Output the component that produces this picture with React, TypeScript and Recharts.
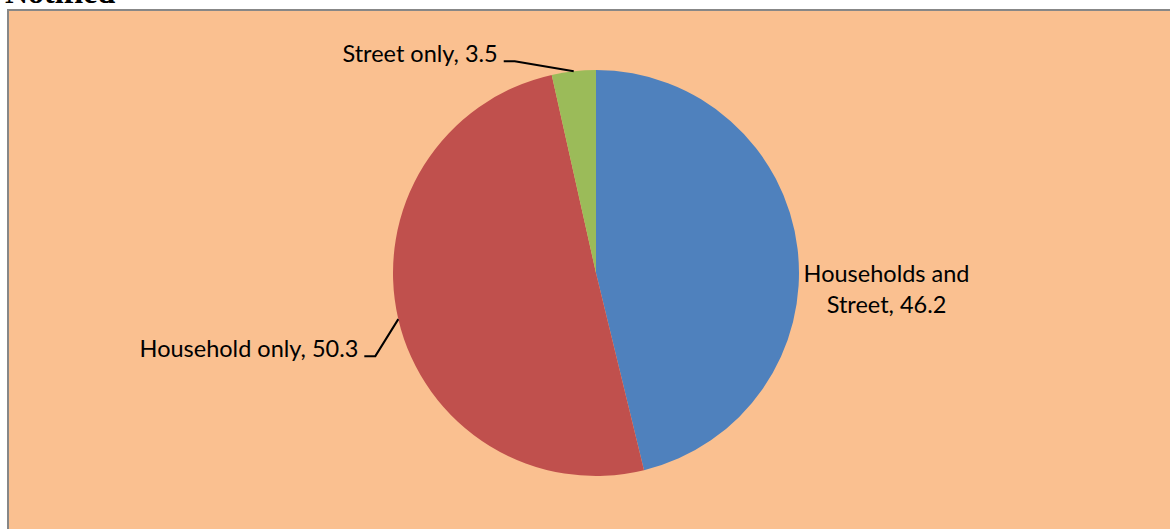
import { PieChart, Pie, Cell } from "recharts";

const categories = ["Households and Street", "Household only", "Street only"];
const shares = [46.2, 50.3, 3.5];
const colors = ["#4F81BD", "#C0504D", "#9BBB59"];

const data = categories.map((name, i) => ({ name, value: shares[i] }));

const RADIAN = Math.PI / 180;
const labelFont = "Lato, 'Open Sans', sans-serif";

// where each label sits relative to the slice's edge point (excel-style manual placement)
const labelPos = [
  { dx: 89, dy: 33, anchor: "middle", line: false },
  { dx: -23, dy: 37, anchor: "end", line: true },
  { dx: -59, dy: -10, anchor: "end", line: true },
];

const renderLabel = (props: any) => {
  const { cx, cy, midAngle, outerRadius, index, name, value } = props;
  const ex = cx + outerRadius * Math.cos(-midAngle * RADIAN);
  const ey = cy + outerRadius * Math.sin(-midAngle * RADIAN);
  const pos = labelPos[index];
  const bx = ex + pos.dx;
  const by = ey + pos.dy;

  if (!pos.line) {
    const words = name.split(" ");
    return (
      <text
        x={bx}
        y={by}
        textAnchor="middle"
        fill="#000"
        fontFamily={labelFont}
        fontSize={23.5}
      >
        <tspan x={bx} dy={0}>{`${words[0]} ${words[1]}`}</tspan>
        <tspan x={bx} dy={31}>{`${words[2]}, ${value}`}</tspan>
      </text>
    );
  }

  return (
    <g>
      <polyline
        points={`${ex},${ey} ${bx},${by} ${bx - 11},${by}`}
        fill="none"
        stroke="#000"
        strokeWidth={2}
      />
      <text
        x={bx - 17}
        y={by + 1}
        textAnchor="end"
        fill="#000"
        fontFamily={labelFont}
        fontSize={23.5}
      >
        {`${name}, ${value}`}
      </text>
    </g>
  );
};

export default function App() {
  return (
    <div
      style={{
        position: "fixed",
        left: 0,
        top: 0,
        width: 1170,
        height: 529,
        overflow: "hidden",
        background: "#fff",
      }}
    >
      <div
        style={{
          position: "absolute",
          left: 5,
          top: -24,
          fontFamily: "'Liberation Serif', serif",
          fontWeight: "bold",
          fontSize: 32,
          lineHeight: "32px",
          color: "#000",
        }}
      >
        Notified
      </div>
      <div
        style={{
          position: "absolute",
          left: 7,
          top: 9,
          width: 1200,
          height: 600,
          border: "2px solid #878787",
          background: "#FAC090",
        }}
      />
      <div style={{ position: "absolute", left: 0, top: 0 }}>
        <PieChart width={1170} height={529}>
          <Pie
            data={data}
            dataKey="value"
            nameKey="name"
            cx={591}
            cy={268}
            outerRadius={203}
            startAngle={90}
            endAngle={-270}
            stroke="none"
            label={renderLabel}
            labelLine={false}
            isAnimationActive={false}
          >
            {data.map((d, i) => (
              <Cell key={d.name} fill={colors[i]} />
            ))}
          </Pie>
        </PieChart>
      </div>
    </div>
  );
}
